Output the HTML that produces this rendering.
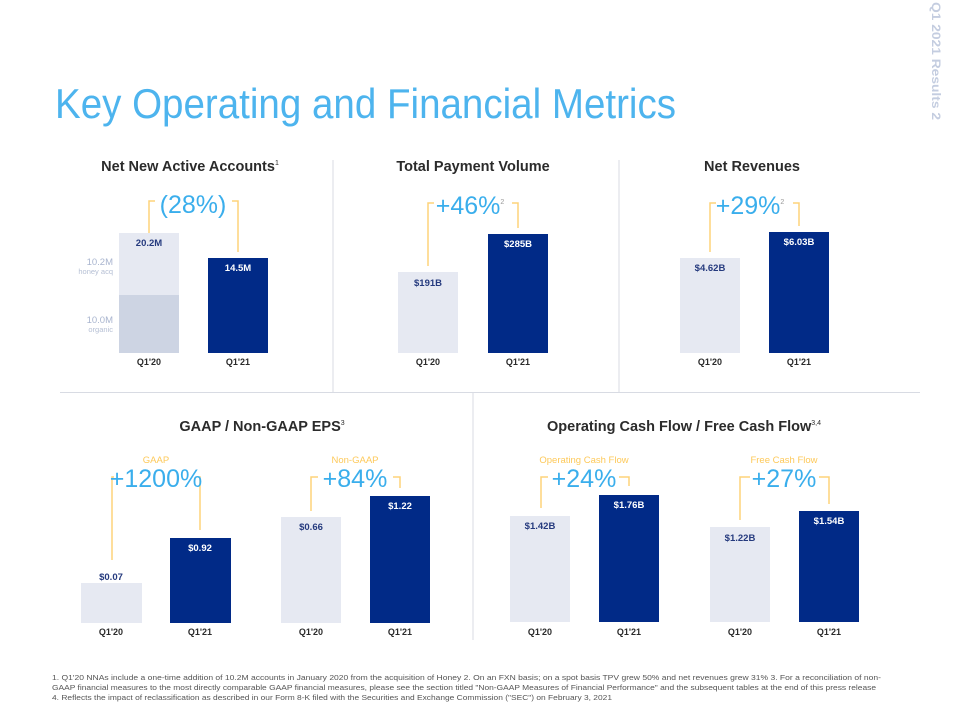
<!DOCTYPE html>
<html><head><meta charset="utf-8"><style>
html,body{margin:0;padding:0;background:#fff;width:953px;height:717px;overflow:hidden}
svg{display:block;font-family:"Liberation Sans",sans-serif}
.t{font-weight:bold;font-size:14.5px;fill:#2b2b2b;text-anchor:middle}
.q{font-weight:bold;font-size:9px;fill:#2b2b2b;text-anchor:middle}
.p{font-size:25px;fill:#3aaeec;text-anchor:middle}
.vd{font-weight:bold;font-size:9.5px;fill:#253a7e;text-anchor:middle}
.vl{font-weight:bold;font-size:9.5px;fill:#fff;text-anchor:middle}
.y{fill:none;stroke:#fdd37a;stroke-width:1.5}
.yl{font-size:9.5px;fill:#fdc95a;text-anchor:middle}
.f{font-size:7.3px;fill:#555}
</style></head><body>
<svg width="953" height="717" viewBox="0 0 953 717">
<text x="55" y="118" font-size="42" fill="#4db4ee" textLength="621" lengthAdjust="spacingAndGlyphs">Key Operating and Financial Metrics</text>
<text transform="translate(932,2) rotate(90)" font-size="12" font-weight="bold" fill="#c4cde0" textLength="118" lengthAdjust="spacingAndGlyphs">Q1  2021 Results   2</text>
<g stroke="#d8dbe3" stroke-width="1">
<line x1="333" y1="160" x2="333" y2="392"/><line x1="619" y1="160" x2="619" y2="392"/>
<line x1="60" y1="392.5" x2="920" y2="392.5"/><line x1="473" y1="393" x2="473" y2="640"/>
</g>
<text class="t" x="190" y="171">Net New Active Accounts<tspan font-size="7" dy="-6" font-weight="normal">1</tspan></text>
<rect x="119" y="233" width="60" height="62" fill="#e6e9f2"/>
<rect x="119" y="295" width="60" height="58" fill="#cdd4e3"/>
<rect x="208" y="258" width="60" height="95" fill="#012a87"/>
<text class="vd" x="149" y="246">20.2M</text>
<text class="vl" x="238" y="271">14.5M</text>
<text x="113" y="265" font-size="9.5" fill="#a9b5cf" text-anchor="end">10.2M</text>
<text x="113" y="274" font-size="7.5" fill="#b5bfd4" text-anchor="end">honey acq</text>
<text x="113" y="323" font-size="9.5" fill="#a9b5cf" text-anchor="end">10.0M</text>
<text x="113" y="332" font-size="7.5" fill="#b5bfd4" text-anchor="end">organic</text>
<path class="y" d="M149 233V201H155M232 201H238V252"/>
<text class="p" x="193" y="213">(28%)</text>
<text class="q" x="149" y="365">Q1'20</text><text class="q" x="238" y="365">Q1'21</text>
<text class="t" x="473" y="171">Total Payment Volume</text>
<rect x="398" y="272" width="60" height="81" fill="#e6e9f2"/>
<rect x="488" y="234" width="60" height="119" fill="#012a87"/>
<text class="vd" x="428" y="286">$191B</text><text class="vl" x="518" y="247">$285B</text>
<path class="y" d="M428 266V203H434M512 203H518V228"/>
<text class="p" x="470" y="214">+46%<tspan font-size="7" dy="-10" fill="#999">2</tspan></text>
<text class="q" x="428" y="365">Q1'20</text><text class="q" x="518" y="365">Q1'21</text>
<text class="t" x="752" y="171">Net Revenues</text>
<rect x="680" y="258" width="60" height="95" fill="#e6e9f2"/>
<rect x="769" y="232" width="60" height="121" fill="#012a87"/>
<text class="vd" x="710" y="271">$4.62B</text><text class="vl" x="799" y="245">$6.03B</text>
<path class="y" d="M710 252V203H716M793 203H799V226"/>
<text class="p" x="750" y="214">+29%<tspan font-size="7" dy="-10" fill="#999">2</tspan></text>
<text class="q" x="710" y="365">Q1'20</text><text class="q" x="799" y="365">Q1'21</text>
<text class="t" x="262" y="431">GAAP / Non-GAAP EPS<tspan font-size="7" dy="-6" font-weight="normal">3</tspan></text>
<rect x="81" y="583" width="61" height="40" fill="#e6e9f2"/>
<rect x="170" y="538" width="61" height="85" fill="#012a87"/>
<rect x="281" y="517" width="60" height="106" fill="#e6e9f2"/>
<rect x="370" y="496" width="60" height="127" fill="#012a87"/>
<text class="vd" x="111" y="580">$0.07</text><text class="vl" x="200" y="551">$0.92</text>
<text class="vd" x="311" y="530">$0.66</text><text class="vl" x="400" y="509">$1.22</text>
<text class="yl" x="156" y="463">GAAP</text><text class="yl" x="355" y="463">Non-GAAP</text>
<path class="y" d="M112 560V477H114M198 477H200V530"/>
<path class="y" d="M311 511V477H318M393 477H400V488"/>
<text class="p" x="156" y="487">+1200%</text>
<text class="p" x="355" y="487">+84%</text>
<text class="q" x="111" y="635">Q1'20</text><text class="q" x="200" y="635">Q1'21</text>
<text class="q" x="311" y="635">Q1'20</text><text class="q" x="400" y="635">Q1'21</text>
<text class="t" x="684" y="431">Operating Cash Flow / Free Cash Flow<tspan font-size="7" dy="-6" font-weight="normal">3,4</tspan></text>
<rect x="510" y="516" width="60" height="106" fill="#e6e9f2"/>
<rect x="599" y="495" width="60" height="127" fill="#012a87"/>
<rect x="710" y="527" width="60" height="95" fill="#e6e9f2"/>
<rect x="799" y="511" width="60" height="111" fill="#012a87"/>
<text class="vd" x="540" y="529">$1.42B</text><text class="vl" x="629" y="508">$1.76B</text>
<text class="vd" x="740" y="541">$1.22B</text><text class="vl" x="829" y="524">$1.54B</text>
<text class="yl" x="584" y="463">Operating Cash Flow</text><text class="yl" x="784" y="463">Free Cash Flow</text>
<path class="y" d="M541 508V477H548M619 477H629V486"/>
<path class="y" d="M740 520V477H750M819 477H829V504"/>
<text class="p" x="584" y="487">+24%</text>
<text class="p" x="784" y="487">+27%</text>
<text class="q" x="540" y="635">Q1'20</text><text class="q" x="629" y="635">Q1'21</text>
<text class="q" x="740" y="635">Q1'20</text><text class="q" x="829" y="635">Q1'21</text>
<text class="f" x="52" y="680" textLength="829" lengthAdjust="spacingAndGlyphs">1.  Q1'20 NNAs include a one-time addition of 10.2M accounts in January 2020 from the acquisition of Honey     2.  On an FXN basis; on a spot basis TPV grew 50% and net revenues grew 31%     3.  For a reconciliation of non-</text>
<text class="f" x="52" y="690" textLength="824" lengthAdjust="spacingAndGlyphs">GAAP financial measures to the most directly comparable GAAP financial measures, please see the section titled "Non-GAAP Measures of Financial Performance" and the subsequent tables at the end of this press release</text>
<text class="f" x="52" y="700" textLength="560" lengthAdjust="spacingAndGlyphs">4.  Reflects the impact of reclassification as described in our Form 8-K filed with the Securities and Exchange Commission ("SEC") on February 3, 2021</text>
</svg>
</body></html>
